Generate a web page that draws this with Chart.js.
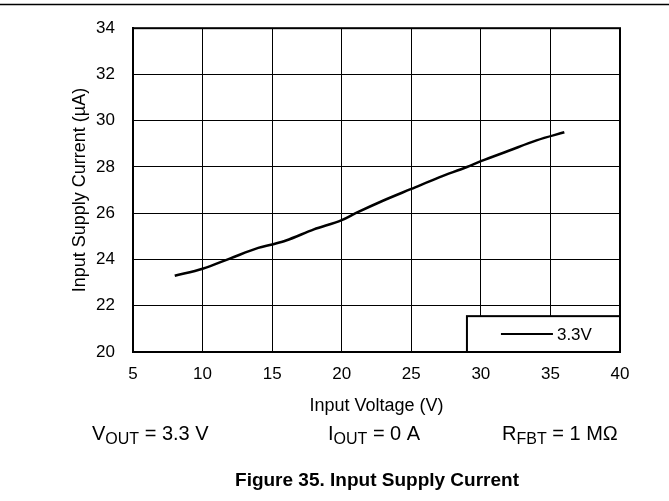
<!DOCTYPE html>
<html>
<head>
<meta charset="utf-8">
<script src="https://cdn.jsdelivr.net/npm/chart.js@4/dist/chart.umd.min.js"></script>
<style>
  html, body { margin: 0; padding: 0; background: #fff; }
  #wrap { width: 669px; height: 501px; }
</style>
</head>
<body>
<div id="wrap"><canvas id="myChart" width="669" height="501"></canvas></div>
<script>
// ----- data -----
const voltages = [8, 10, 12, 14, 15, 16, 18, 20, 21, 23, 25, 27, 29, 30, 32, 34, 36];
const currents = [23.3, 23.6, 24.05, 24.5, 24.65, 24.82, 25.3, 25.7, 26.0, 26.55, 27.05, 27.55, 28.0, 28.25, 28.7, 29.15, 29.5];
const seriesLabel = '3.3V';
const xTicks = [5, 10, 15, 20, 25, 30, 35, 40];
const yTicks = [20, 22, 24, 26, 28, 30, 32, 34];

const FONT = '"Liberation Sans", Arial, sans-serif';

const points = voltages.map((v, i) => ({ x: v, y: currents[i] }));

// draws the frame, the legend box, the conditions line and the figure caption
const extras = {
  id: 'extras',
  afterDraw(chart) {
    const ctx = chart.ctx;
    const a = chart.chartArea;
    ctx.save();

    // rule across the top of the page
    ctx.strokeStyle = '#000';
    ctx.lineWidth = 1.5;
    ctx.beginPath();
    ctx.moveTo(0, 4.5);
    ctx.lineTo(669, 4.5);
    ctx.stroke();

    // heavy frame round the plot
    ctx.lineWidth = 2;
    ctx.strokeRect(a.left, a.top, a.right - a.left, a.bottom - a.top);

    // legend box, bottom right inside the plot
    const bx = chart.scales.x.getPixelForValue(29.0);
    const by = chart.scales.y.getPixelForValue(21.55);
    ctx.fillStyle = '#fff';
    ctx.fillRect(bx, by, a.right - bx, a.bottom - by);
    ctx.strokeRect(bx, by, a.right - bx, a.bottom - by);
    const ly = (by + a.bottom) / 2;
    ctx.beginPath();
    ctx.moveTo(bx + 34, ly);
    ctx.lineTo(bx + 86, ly);
    ctx.stroke();
    ctx.fillStyle = '#000';
    ctx.font = '17px ' + FONT;
    ctx.textBaseline = 'middle';
    ctx.textAlign = 'left';
    ctx.fillText(seriesLabel, bx + 90, ly + 1);

    // conditions line with subscripts
    function sub(x, y, main, s, rest) {
      ctx.font = '20px ' + FONT;
      ctx.fillText(main, x, y);
      x += ctx.measureText(main).width;
      ctx.font = '16px ' + FONT;
      ctx.fillText(s, x, y + 4);
      x += ctx.measureText(s).width;
      ctx.font = '20px ' + FONT;
      ctx.fillText(rest, x, y);
    }
    ctx.textBaseline = 'alphabetic';
    sub(92, 440, 'V', 'OUT', ' = 3.3 V');
    sub(328, 440, 'I', 'OUT', ' = 0 A');
    sub(502, 440, 'R', 'FBT', ' = 1 M\u03A9');

    // figure caption
    ctx.font = 'bold 19px ' + FONT;
    ctx.textAlign = 'center';
    ctx.fillText('Figure 35. Input Supply Current', 377, 486);
    ctx.restore();
  }
};

const config = {
  type: 'line',
  data: {
    datasets: [{
      label: seriesLabel,
      data: points,
      borderColor: '#000',
      borderWidth: 2.5,
      pointRadius: 0,
      fill: false,
      cubicInterpolationMode: 'monotone'
    }]
  },
  options: {
    responsive: false,
    animation: false,
    layout: { padding: { top: 20, right: 49, bottom: 0, left: 0 } },
    scales: {
      x: {
        type: 'linear',
        min: 5,
        max: 40,
        afterBuildTicks: (s) => { s.ticks = xTicks.map(v => ({ value: v })); },
        afterFit: (s) => { s.height = 149; },
        ticks: { padding: 12, color: '#000', font: { family: FONT, size: 17 } },
        grid: { color: '#000', lineWidth: 1, drawTicks: false },
        border: { color: '#000', width: 2 },
        title: {
          display: true,
          text: 'Input Voltage (V)',
          color: '#000',
          font: { family: FONT, size: 18 },
          padding: { top: 0, bottom: 84 }
        }
      },
      y: {
        min: 20,
        max: 34,
        afterBuildTicks: (s) => { s.ticks = yTicks.map(v => ({ value: v })); },
        afterFit: (s) => { s.width = 133; },
        ticks: { padding: 18, color: '#000', font: { family: FONT, size: 17 } },
        grid: { color: '#000', lineWidth: 1, drawTicks: false },
        border: { color: '#000', width: 2 },
        title: {
          display: true,
          text: 'Input Supply Current (\u00B5A)',
          color: '#000',
          font: { family: FONT, size: 18 },
          padding: { top: 69, bottom: 0 }
        }
      }
    },
    plugins: {
      legend: { display: false },
      tooltip: { enabled: false }
    }
  },
  plugins: [extras]
};

const myChart = new Chart(document.getElementById('myChart').getContext('2d'), config);
</script>
</body>
</html>
